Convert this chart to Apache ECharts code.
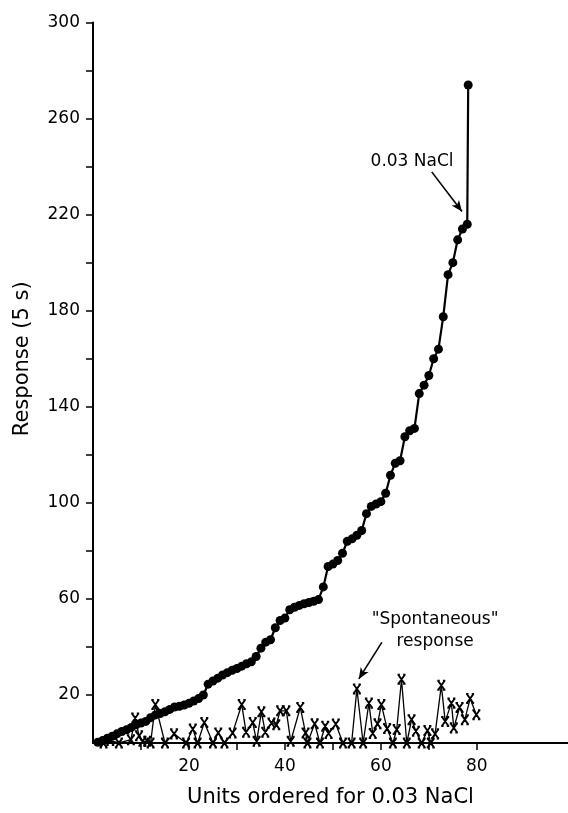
<!DOCTYPE html>
<html>
<head>
<meta charset="utf-8">
<script src="https://cdn.jsdelivr.net/npm/echarts@6/dist/echarts.min.js"></script>
<style>html,body{margin:0;padding:0;background:#fff;}#c{width:568px;height:813px;}</style>
</head>
<body>
<div id="c"></div>
<script>
// Units ordered for 0.03 NaCl (filled dots)
const dotUnits = [1,2,3,4,5,6,7,8,9,10,11,12,13,14,15,16,17,18,19,20,21,22,23,24,25,26,27,28,29,30,31,32,33,34,35,36,37,38,39,40,41,42,43,44,45,46,47,48,49,50,51,52,53,54,55,56,57,58,59,60,61,62,63,64,65,66,67,68,69,70,71,72,73,74,75,76,77,78,78.2];
const dotResponse = [0.3,1,2,2.8,3.8,4.8,5.5,6.5,7.6,8.3,9,10.5,11.7,12.3,13,14,15,15.3,15.8,16.5,17.5,18.5,20,24.5,25.8,27,28.3,29.3,30.3,31,32,33,33.8,36,39.5,42,43,48,51,52,55.5,56.5,57.3,58,58.5,59,59.7,65,73.5,74.5,76,79,84,85,86.5,88.5,95.5,98.5,99.5,100.5,104,111.5,116.5,117.5,127.5,130,131,145.5,149,153,160,164,177.5,195,200,209.5,214,216,274];

// "Spontaneous" response (x markers)
const spontUnits = [2.2,3.6,5.4,7.9,8.8,9.6,10.3,11.3,12.0,13.0,15.0,16.9,19.4,20.8,21.8,23.2,25.0,26.1,27.4,29.1,31.0,31.9,33.3,34.1,35.1,35.9,37.2,38.2,39.0,40.3,41.2,43.2,44.3,44.7,46.2,47.3,48.4,49.1,50.6,52.1,53.9,55.0,56.3,57.5,58.3,59.3,60.1,61.3,62.5,63.3,64.3,65.4,66.4,67.3,68.5,69.7,70.4,71.3,72.6,73.4,74.7,75.2,76.4,77.5,78.6,79.9];
const spontResponse = [0,1,0,1.4,10.4,3,0.7,0.7,0,16,0,3.8,0,5.8,0,8.5,0,4.2,0,4.2,16,4.5,8.5,0.7,13,4.5,8.3,7.6,13.4,13.4,0.7,14.8,4.2,0,8,0,7,4,7.9,0,0,22.5,0,16.6,4,8,16,6,0,5.6,26.5,0,9.7,4.9,0,5.2,0,3.8,24,9,16.6,6.3,14.8,9.7,18.5,11.8];

// Axis ticks and labels
const xTicks = [10,20,30,40,50,60,70,80];
const xLabels = [20,40,60,80];
const yTicks = [20,40,60,80,100,120,140,160,180,200,220,240,260,280,300];
const yLabels = [20,60,100,140,180,220,260,300];

// Annotations
const naclLabel = {text: '0.03 NaCl', at: [66.5, 242]};
const naclArrow = [[70.6, 237.8], [76.9, 221.3]];
const spontLabel = {text: '"Spontaneous"\nresponse', at: [71.3, 46.7]};
const spontArrow = [[60.2, 41.9], [55.4, 26.7]];

const FONT = 'DejaVu Sans';
const chart = echarts.init(document.getElementById('c'), null, {renderer: 'canvas'});

const zip = (a, b) => a.map((v, i) => [v, b[i]]);

chart.setOption({
  animation: false,
  backgroundColor: '#fff',
  grid: {left: 93, right: 0, top: 22.5, bottom: 64.5, containLabel: false},
  xAxis: {
    type: 'value', min: 0, max: 99,
    name: 'Units ordered for 0.03 NaCl', nameLocation: 'middle', nameGap: 44,
    nameTextStyle: {fontFamily: FONT, fontSize: 21, color: '#000'},
    axisLine: {show: true, onZero: false, lineStyle: {color: '#000', width: 2}},
    axisTick: {show: true, customValues: xTicks, length: 7, inside: false, lineStyle: {color: '#000', width: 1.5}},
    axisLabel: {customValues: xLabels, margin: 15, fontFamily: FONT, fontSize: 17, color: '#000'},
    splitLine: {show: false}
  },
  yAxis: {
    type: 'value', min: 0, max: 300,
    name: 'Response (5 s)', nameLocation: 'middle', nameGap: 60,
    nameTextStyle: {fontFamily: FONT, fontSize: 21, color: '#000', padding: [0, 0, 0, 48]},
    axisLine: {show: true, onZero: false, lineStyle: {color: '#000', width: 2}},
    axisTick: {show: true, customValues: yTicks, length: 7, inside: false, lineStyle: {color: '#000', width: 1.5}},
    axisLabel: {customValues: yLabels, margin: 13, fontFamily: FONT, fontSize: 17, color: '#000'},
    splitLine: {show: false}
  },
  series: [
    {
      type: 'line', name: 'spontaneous',
      data: zip(spontUnits, spontResponse),
      symbol: 'path://M0,0L8,9M8,0L0,9M-1,0L2,0M6,0L9,0M-1,9L2,9M6,9L9,9',
      symbolSize: [8, 9],
      itemStyle: {color: '#000', borderColor: '#000', borderWidth: 1.9},
      lineStyle: {color: '#000', width: 1.3},
      clip: false, silent: true,
      markLine: {
        silent: true, symbol: ['none', 'arrow'], symbolSize: [7, 11],
        lineStyle: {color: '#000', width: 1.6, type: 'solid'},
        label: {show: false},
        data: [[{coord: spontArrow[0]}, {coord: spontArrow[1]}]]
      },
      markPoint: {
        silent: true, symbol: 'circle', symbolSize: 0,
        label: {show: true, position: 'inside', formatter: spontLabel.text, fontFamily: FONT, fontSize: 17, lineHeight: 22, color: '#000', align: 'center'},
        data: [{coord: spontLabel.at}]
      }
    },
    {
      type: 'line', name: 'nacl',
      data: zip(dotUnits, dotResponse),
      symbol: 'circle', symbolSize: 9,
      itemStyle: {color: '#000'},
      lineStyle: {color: '#000', width: 2.2},
      clip: false, silent: true,
      markLine: {
        silent: true, symbol: ['none', 'arrow'], symbolSize: [7, 11],
        lineStyle: {color: '#000', width: 1.6, type: 'solid'},
        label: {show: false},
        data: [[{coord: naclArrow[0]}, {coord: naclArrow[1]}]]
      },
      markPoint: {
        silent: true, symbol: 'circle', symbolSize: 0,
        label: {show: true, position: 'inside', formatter: naclLabel.text, fontFamily: FONT, fontSize: 17, color: '#000'},
        data: [{coord: naclLabel.at}]
      }
    }
  ]
});
</script>
</body>
</html>
